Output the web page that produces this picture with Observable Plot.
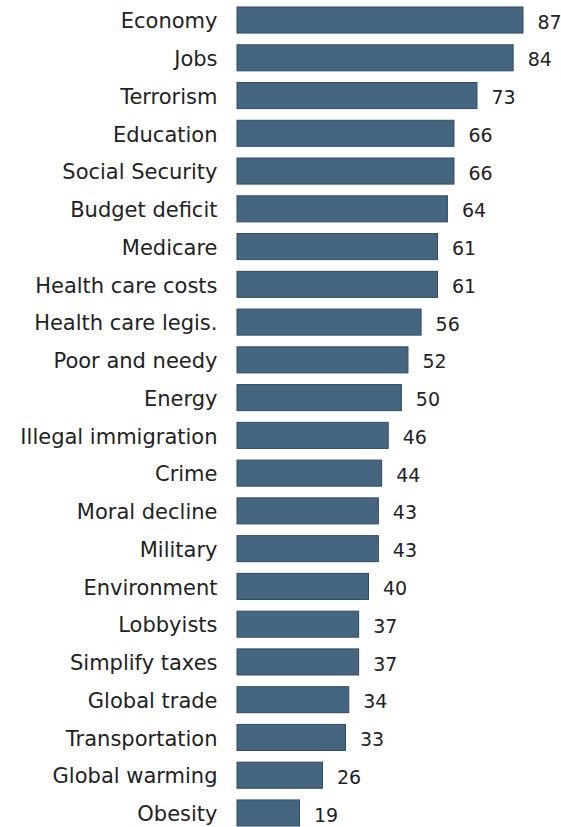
<!DOCTYPE html>
<html>
<head>
<meta charset="utf-8">
<script src="https://cdn.jsdelivr.net/npm/d3@7"></script>
<script src="https://cdn.jsdelivr.net/npm/@observablehq/plot@0.6"></script>
<style>
  html, body { margin: 0; padding: 0; background: #fff; }
  #chart svg { display: block; }
</style>
</head>
<body>
<div id="chart"></div>
<script>
const categories = ["Economy", "Jobs", "Terrorism", "Education", "Social Security", "Budget deficit", "Medicare", "Health care costs", "Health care legis.", "Poor and needy", "Energy", "Illegal immigration", "Crime", "Moral decline", "Military", "Environment", "Lobbyists", "Simplify taxes", "Global trade", "Transportation", "Global warming", "Obesity"];
const values = [87, 84, 73, 66, 66, 64, 61, 61, 56, 52, 50, 46, 44, 43, 43, 40, 37, 37, 34, 33, 26, 19];

const data = categories.map((c, i) => ({category: c, value: values[i]}));

const chart = Plot.plot({
  width: 561,
  height: 827,
  marginLeft: 237,
  marginRight: 38,
  marginTop: 7,
  marginBottom: 1,
  style: {fontFamily: "'DejaVu Sans', Verdana, sans-serif", fontSize: "20px", color: "#222", background: "#fff"},
  x: {domain: [0, 87], axis: null},
  y: {domain: categories, paddingInner: 0.31, paddingOuter: 0, round: false, label: null},
  axis: null,
  marks: [
    Plot.barX(data, {y: "category", x: "value", fill: "#46667f", stroke: "#2b4a6a", strokeWidth: 1}),
    Plot.axisY({tickSize: 0, tickPadding: 20, fontSize: 21, label: null, fill: "#222", dy: 1}),
    Plot.text(data, {y: "category", x: "value", text: d => String(d.value), textAnchor: "start", dx: 14, dy: 2, fontSize: 19, fill: "#222"})
  ]
});
document.getElementById("chart").append(chart);
</script>
</body>
</html>
